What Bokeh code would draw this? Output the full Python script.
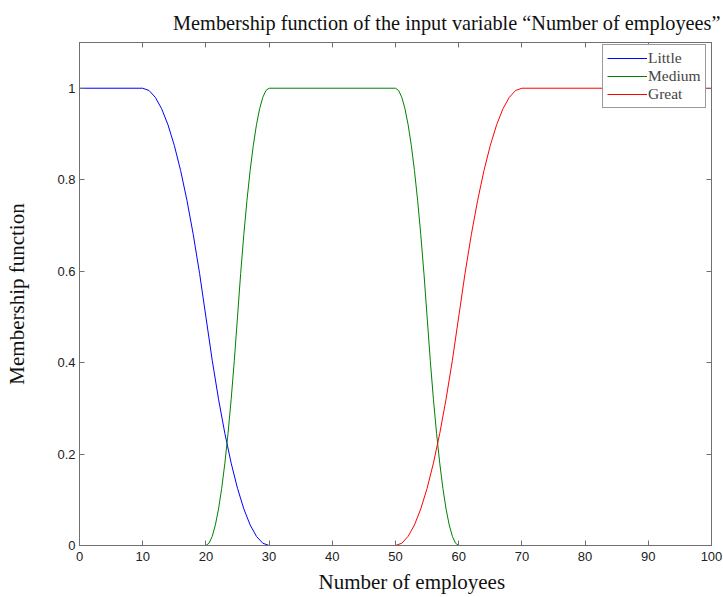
from bokeh.plotting import figure
from bokeh.models import LinearAxis, FixedTicker, Range1d, Legend, LegendItem, CustomJSTickFormatter, Title
from bokeh.embed import file_html
from bokeh.resources import INLINE

# ---- data ----
little_x = [0, 10, 11, 12, 13, 14, 15, 16, 17, 18, 19, 20, 21, 22, 23, 24, 25, 26, 27, 28, 29, 30, 100]
little_y = [1, 1, 0.995, 0.98, 0.955, 0.92, 0.875, 0.82, 0.755, 0.68, 0.595, 0.5, 0.405, 0.32, 0.245,
            0.18, 0.125, 0.08, 0.045, 0.02, 0.005, 0, 0]

medium_x = [0, 20, 20.5, 21, 21.5, 22, 22.5, 23, 23.5, 24, 24.5, 25, 25.5, 26, 26.5, 27, 27.5, 28, 28.5, 29, 29.5, 30,
            50, 50.5, 51, 51.5, 52, 52.5, 53, 53.5, 54, 54.5, 55, 55.5, 56, 56.5, 57, 57.5, 58, 58.5, 59, 59.5, 60, 100]
medium_y = [0, 0, 0.005, 0.02, 0.045, 0.08, 0.125, 0.18, 0.245, 0.32, 0.405, 0.5, 0.595, 0.68, 0.755, 0.82, 0.875,
            0.92, 0.955, 0.98, 0.995, 1,
            1, 0.995, 0.98, 0.955, 0.92, 0.875, 0.82, 0.755, 0.68, 0.595, 0.5, 0.405, 0.32, 0.245, 0.18, 0.125,
            0.08, 0.045, 0.02, 0.005, 0, 0]

great_x = [0, 50, 51, 52, 53, 54, 55, 56, 57, 58, 59, 60, 61, 62, 63, 64, 65, 66, 67, 68, 69, 70, 100]
great_y = [0, 0, 0.005, 0.02, 0.045, 0.08, 0.125, 0.18, 0.245, 0.32, 0.405, 0.5, 0.595, 0.68, 0.755, 0.82,
           0.875, 0.92, 0.955, 0.98, 0.995, 1, 1]

series_names = ["Little", "Medium", "Great"]
series_colors = ["#0000ff", "#008000", "#ff0000"]
x_ticks = [0, 10, 20, 30, 40, 50, 60, 70, 80, 90, 100]
y_ticks = [0, 0.2, 0.4, 0.6, 0.8, 1]
y_tick_labels = ["0", "0.2", "0.4", "0.6", "0.8", "1"]

title_text = "Membership function of the input variable \u201cNumber of employees\u201d"
x_label = "Number of employees"
y_label = "Membership function"

serif = "Liberation Serif"
sans = "Liberation Sans"
axis_col = "#707070"

p = figure(width=723, height=597, output_backend="svg", toolbar_location=None,
           x_range=Range1d(0, 100), y_range=Range1d(0, 1.1),
           min_border_left=79, min_border_right=12, min_border_top=42, min_border_bottom=52)

p.title.text = title_text
p.title.align = "right"
p.title.text_font = serif
p.title.text_font_size = "20.3px"
p.title.text_font_style = "normal"
p.title.text_color = "#111111"
p.title.offset = -9
p.title.standoff = 18

p.grid.visible = False
p.outline_line_color = axis_col

r1 = p.line(little_x, little_y, line_color=series_colors[0], line_width=1)
r2 = p.line(medium_x, medium_y, line_color=series_colors[1], line_width=1)
r3 = p.line(great_x, great_y, line_color=series_colors[2], line_width=1)

bottom = p.xaxis[0]
left = p.yaxis[0]
left.axis_label = y_label
bottom.ticker = FixedTicker(ticks=x_ticks)
left.ticker = FixedTicker(ticks=y_ticks)
left.major_label_overrides = {t: l for t, l in zip(y_ticks, y_tick_labels)}

blank = CustomJSTickFormatter(code="return '';")
top = LinearAxis(ticker=FixedTicker(ticks=x_ticks), formatter=blank)
right = LinearAxis(ticker=FixedTicker(ticks=y_ticks), formatter=blank)
p.add_layout(top, "above")
p.add_layout(right, "right")

for ax in [bottom, left, top, right]:
    ax.axis_line_color = axis_col
    ax.major_tick_line_color = axis_col
    ax.major_tick_in = 5
    ax.major_tick_out = 0
    ax.minor_tick_line_color = None
    ax.major_label_text_font = sans
    ax.major_label_text_font_size = "13px"
    ax.major_label_text_color = "#222222"
    ax.axis_label_text_font = serif
    ax.axis_label_text_font_size = "21px"
    ax.axis_label_text_font_style = "normal"
    ax.axis_label_text_color = "#111111"

top.major_label_standoff = 0
right.major_label_standoff = 0

left.axis_label_standoff = 25
bottom.major_label_standoff = 6
left.major_label_standoff = 4

xtitle = Title(text=x_label, align="left", offset=239, text_font=serif, text_font_size="21px",
               text_font_style="normal", text_color="#111111", standoff=8)
p.add_layout(xtitle, "below")

legend = Legend(items=[LegendItem(label=n, renderers=[r]) for n, r in zip(series_names, [r1, r2, r3])],
                location=(523, 437))
legend.label_text_font = serif
legend.label_text_font_size = "15.5px"
legend.border_line_color = "#333333"
legend.background_fill_alpha = 1
legend.margin = 0
legend.padding = 4
legend.spacing = 0
legend.label_height = 16
legend.glyph_height = 16
legend.glyph_width = 40
legend.label_standoff = 1
p.add_layout(legend)

open("out.html", "w").write(file_html(p, INLINE))
